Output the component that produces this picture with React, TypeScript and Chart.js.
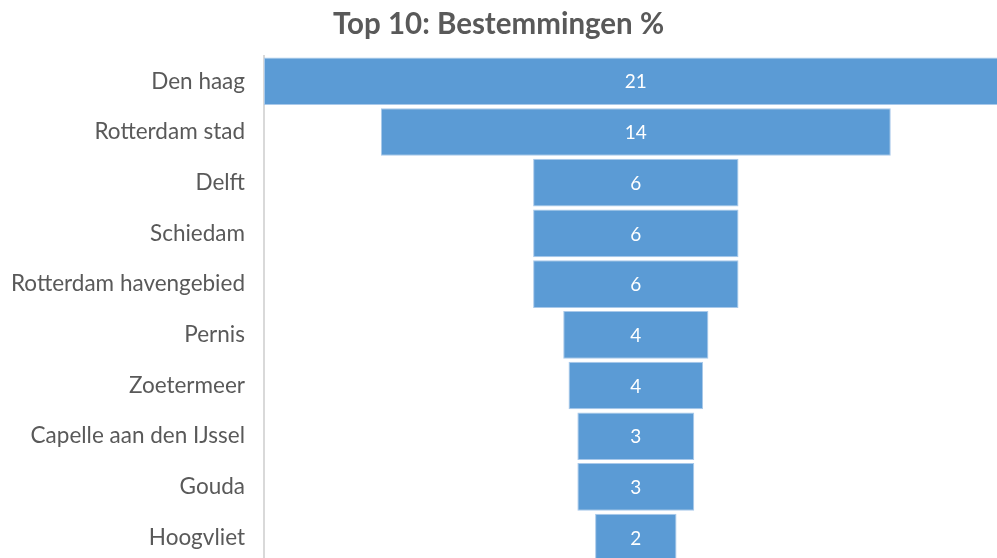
import React, { useEffect, useRef } from "react";
import { Chart, registerables } from "chart.js";

Chart.register(...registerables);

const categories = [
  "Den haag",
  "Rotterdam stad",
  "Delft",
  "Schiedam",
  "Rotterdam havengebied",
  "Pernis",
  "Zoetermeer",
  "Capelle aan den IJssel",
  "Gouda",
  "Hoogvliet",
];
const values = [21, 14.4, 5.8, 5.8, 5.8, 4.1, 3.8, 3.3, 3.3, 2.3];
const titleText = "Top 10: Bestemmingen %";

const FONT = "Lato, 'Open Sans', sans-serif";

const labelPlugin = {
  id: "funnelLabels",
  afterDatasetsDraw(chart: any) {
    const ctx = chart.ctx;
    const meta = chart.getDatasetMeta(0);
    ctx.save();
    ctx.fillStyle = "#ffffff";
    ctx.font = `19px ${FONT}`;
    ctx.textAlign = "center";
    ctx.textBaseline = "middle";
    meta.data.forEach((bar: any, i: number) => {
      const xs = chart.scales.x;
      const cx = xs.getPixelForValue(0);
      ctx.fillText(String(Math.round(values[i])), cx, bar.y + 1);
    });
    ctx.restore();
  },
};

export default function App() {
  const ref = useRef<HTMLCanvasElement>(null);
  useEffect(() => {
    if (!ref.current) return;
    const chart = new Chart(ref.current, {
      type: "bar",
      data: {
        labels: categories,
        datasets: [
          {
            data: values.map((v) => [-v / 2, v / 2]) as any,
            backgroundColor: "#5B9BD5",
            borderColor: "#A9C9EA",
            borderWidth: 1,
            borderSkipped: false,
            categoryPercentage: 1,
            barPercentage: 0.94,
          },
        ],
      },
      options: {
        indexAxis: "y",
        animation: false,
        responsive: false,
        maintainAspectRatio: false,
        layout: { padding: 0 },
        plugins: {
          legend: { display: false },
          tooltip: { enabled: false },
          title: {
            display: true,
            text: titleText,
            color: "#595959",
            font: { family: FONT, size: 29.5, weight: "bold" },
            padding: { top: 7, bottom: 13.5 },
          },
        },
        scales: {
          x: {
            display: false,
            min: -10.5,
            max: 10.2,
          },
          y: {
            grid: { display: false, drawTicks: false },
            border: { display: true, color: "#d9d9d9", width: 2 },
            ticks: {
              color: "#595959",
              font: { family: FONT, size: 22.5 },
              padding: 19,
            },
            afterFit(scale: any) {
              scale.width = 264;
              scale.paddingTop = 0;
              scale.paddingBottom = 0;
            },
          },
        },
      },
      plugins: [labelPlugin],
    });
    return () => chart.destroy();
  }, []);
  return (
    <div style={{ position: "fixed", left: 0, top: 0, width: 997, height: 563 }}>
      <canvas ref={ref} width={997} height={563} style={{ width: 997, height: 563, display: "block" }} />
    </div>
  );
}
